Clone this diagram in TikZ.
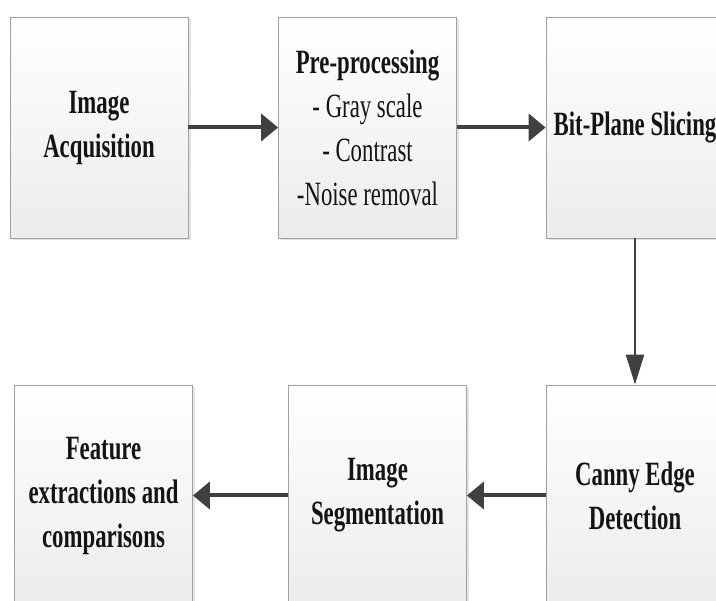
\documentclass[tikz,border=0pt]{standalone}
\usepackage{fontspec}
\setmainfont{Liberation Serif}[FakeStretch=0.67]
\usetikzlibrary{arrows.meta,shadows}
\definecolor{arrowgray}{RGB}{64,64,64}
\definecolor{boxedge}{RGB}{160,160,160}
\definecolor{boxbottom}{RGB}{236,236,236}
\definecolor{txt}{RGB}{20,20,20}
\begin{document}
\begin{tikzpicture}[x=1pt,y=-1pt,
  box/.style={draw=boxedge, line width=0.8pt, top color=white, bottom color=boxbottom,
    minimum width=178pt, minimum height=221pt, inner sep=0pt, align=center,
    text=txt, font=\fontsize{34}{44}\selectfont,
    drop shadow={shadow xshift=2.5pt, shadow yshift=-2.5pt, fill=gray!35, opacity=0.6}},
  harrow/.style={draw=arrowgray, line width=4pt, -{Triangle[length=17pt,width=27pt]}},
  varrow/.style={draw=arrowgray, line width=2.5pt, -{Triangle[length=30pt,width=18pt]}}]
\useasboundingbox (0,0) rectangle (716,601);
\clip (0,0) rectangle (716,601);
\node[box] (b1) at (99,127.5) {\textbf{Image}\\\textbf{Acquisition}};
\node[box] (b2) at (367.5,127.5) {\textbf{Pre-processing}\\- Gray scale\\- Contrast\\-Noise removal};
\node[box] (b3) at (635,127.5) {\textbf{Bit-Plane Slicing}};
\node[box] (b4) at (635,495.5) {\textbf{Canny Edge}\\\textbf{Detection}};
\node[box] (b5) at (377.5,495.5) {\textbf{Image}\\\textbf{Segmentation}};
\node[box] (b6) at (103.5,495.5) {\textbf{Feature}\\\textbf{extractions and}\\\textbf{comparisons}};
\draw[harrow] (b1.east) -- (b2.west);
\draw[harrow] (b2.east) -- (b3.west);
\draw[varrow] (b3.south) -- (b4.north);
\draw[harrow] (b4.west) -- (b5.east);
\draw[harrow] (b5.west) -- (b6.east);
\end{tikzpicture}
\end{document}
